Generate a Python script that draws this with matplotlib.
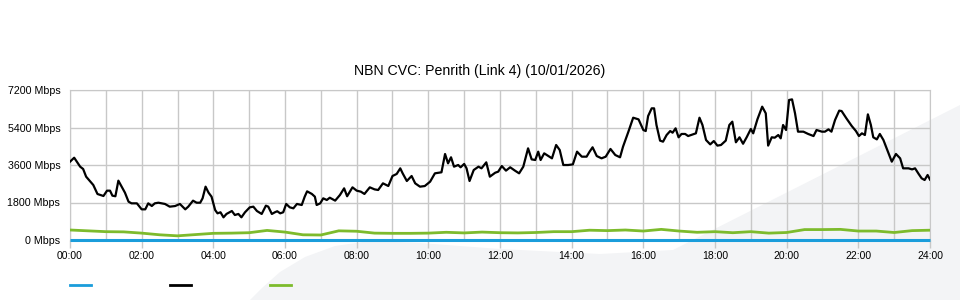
import numpy as np
import matplotlib
matplotlib.use("Agg")
import matplotlib.pyplot as plt
from matplotlib.lines import Line2D
from matplotlib.patches import Polygon

plt.rcParams['font.family'] = ['Liberation Sans', 'DejaVu Sans']

title = "NBN CVC: Penrith (Link 4) (10/01/2026)"
y_ticks = [0, 1800, 3600, 5400, 7200]
y_labels = ["0 Mbps", "1800 Mbps", "3600 Mbps", "5400 Mbps", "7200 Mbps"]
x_ticks = [0, 2, 4, 6, 8, 10, 12, 14, 16, 18, 20, 22, 24]
x_labels = ["00:00", "02:00", "04:00", "06:00", "08:00", "10:00", "12:00",
            "14:00", "16:00", "18:00", "20:00", "22:00", "24:00"]

# black series, minutes past midnight -> Mbps
black_min = [0, 7, 17, 22, 27, 39, 46, 56, 62, 67, 71, 76, 81, 87, 92, 98, 103, 112,
             120, 126, 131, 137, 142, 148, 159, 167, 176, 184, 193, 198, 206, 212, 218,
             222, 227, 232, 237, 243, 247, 252, 257, 262, 271, 276, 282, 287, 293, 301,
             307, 313, 321, 328, 332, 338, 343, 347, 352, 357, 362, 368, 374, 380, 388,
             393, 397, 405, 410, 413, 419, 424, 430, 435, 444, 452, 459, 464, 473, 480,
             487, 493, 502, 510, 516, 524, 533, 540, 547, 553, 557, 564, 572, 578, 586,
             594, 603, 611, 622, 628, 633, 638, 643, 650, 654, 660, 664, 669, 676, 684,
             689, 697, 703, 712, 717, 723, 730, 737, 745, 752, 759, 767, 773, 779, 784,
             788, 794, 801, 807, 814, 820, 826, 834, 842, 849, 857, 865, 870, 875, 882,
             890, 897, 905, 913, 921, 926, 935, 943, 952, 960, 964, 968, 974, 978, 982,
             988, 993, 999, 1005, 1009, 1014, 1019, 1024, 1030, 1035, 1043, 1048, 1054,
             1059, 1065, 1072, 1078, 1084, 1090, 1098, 1104, 1109, 1115, 1121, 1127,
             1133, 1140, 1144, 1151, 1159, 1165, 1169, 1175, 1180, 1186, 1190, 1194,
             1199, 1204, 1209, 1214, 1219, 1228, 1236, 1245, 1250, 1259, 1264, 1270,
             1275, 1281, 1288, 1292, 1300, 1309, 1316, 1321, 1326, 1331, 1336, 1341,
             1345, 1351, 1356, 1362, 1368, 1376, 1383, 1390, 1395, 1404, 1410, 1415,
             1421, 1426, 1431, 1436, 1440]
black_mbps = [3758, 3950, 3520, 3408, 3040, 2640, 2208, 2112, 2368, 2368, 2128, 2100, 2848,
              2528, 2272, 1840, 1760, 1760, 1472, 1472, 1760, 1632, 1760, 1790, 1730, 1600,
              1630, 1730, 1472, 1600, 1888, 1790, 1790, 2000, 2560, 2272, 2080, 1440, 1280,
              1330, 1088, 1250, 1392, 1200, 1250, 1088, 1330, 1568, 1600, 1392, 1250, 1648,
              1600, 1250, 1330, 1380, 1280, 1330, 1730, 1568, 1520, 1730, 1680, 2080, 2336,
              2210, 2080, 1680, 1760, 2000, 1920, 2030, 1890, 2160, 2480, 2100, 2528, 2370,
              2320, 2210, 2528, 2430, 2400, 2720, 2592, 3072, 3170, 3440, 3200, 2832, 3072,
              2720, 2560, 2590, 2800, 3200, 3250, 4128, 3680, 3970, 3520, 3600, 3490, 3650,
              3440, 2832, 3360, 3520, 3440, 3728, 3040, 3230, 3280, 3550, 3330, 3490, 3330,
              3200, 3520, 4400, 3870, 3840, 4240, 3840, 4160, 4030, 3920, 4560, 4320, 3600,
              3600, 3630, 4240, 4000, 4000, 4240, 4450, 4030, 3920, 4000, 4370, 4080, 3970,
              4480, 5200, 5870, 5790, 5280, 5230, 5950, 6320, 6320, 5520, 4770, 4720, 5040,
              5230, 5150, 5360, 4930, 5090, 5090, 4990, 5070, 5120, 5870, 5520, 4800, 4590,
              4750, 4530, 4560, 4770, 5520, 5680, 4690, 4930, 4620, 4930, 5330, 5120, 5790,
              6400, 6080, 4530, 4930, 4910, 5040, 4880, 5520, 5280, 6720, 6750, 6080, 5200,
              5200, 5090, 4990, 5280, 5200, 5200, 5310, 5200, 5760, 6210, 6190, 5840, 5470,
              5230, 4990, 5120, 5040, 6030, 5520, 4930, 4830, 5090, 4800, 4350, 3760, 4130,
              3920, 3440, 3440, 3390, 3440, 3170, 2960, 2880, 3120, 2900]

# green series, every 30 minutes
green_min = np.arange(0, 1441, 30)
green_mbps = [480, 440, 400, 390, 330, 250, 200, 260, 320, 330, 350, 460, 380, 250, 240,
              440, 420, 330, 320, 320, 330, 370, 340, 380, 350, 340, 360, 400, 400, 470,
              450, 480, 430, 510, 430, 370, 400, 350, 400, 330, 360, 500, 500, 510, 430,
              430, 360, 450, 470]

# blue series sits on zero all day
blue_min = [0, 1440]
blue_mbps = [0, 0]

fig = plt.figure(figsize=(9.6, 3.0), dpi=100)

# faint watermark swoosh in the background (figure pixels, top-left origin)
bg = fig.add_axes([0, 0, 1, 1], zorder=-5)
bg.set_xlim(0, 960)
bg.set_ylim(300, 0)
bg.axis('off')
swoosh_px = [(250, 300), (262, 288), (280, 272), (305, 257), (335, 246), (370, 241),
             (420, 243), (500, 249), (600, 254), (673, 250), (960, 105), (960, 300)]
bg.add_patch(Polygon(swoosh_px, closed=True, facecolor='#f3f4f6', edgecolor='none'))

ax = fig.add_axes([70 / 960, 60 / 300, 860 / 960, 150 / 300], zorder=1)
ax.patch.set_alpha(0)

ax.plot(np.array(blue_min) / 60, blue_mbps, color='#1a9ddb', lw=2.2, zorder=4,
        solid_capstyle='butt', clip_on=False)
ax.plot(np.array(black_min) / 60, black_mbps, color='black', lw=1.6, zorder=3)
ax.plot(green_min / 60, green_mbps, color='#7dbb2c', lw=2.0, zorder=3)

ax.set_xlim(0, 24)
ax.set_ylim(0, 7200)
ax.set_xticks(x_ticks)
ax.set_xticklabels(x_labels, fontsize=7.5)
ax.set_xticks(np.arange(1, 24, 2), minor=True)
ax.set_yticks(y_ticks)
ax.set_yticklabels(y_labels, fontsize=7.7)
ax.tick_params(axis='x', which='major', direction='out', length=6, width=1,
               color='#c8c8c8', pad=2)
ax.tick_params(axis='x', which='minor', length=0)
ax.tick_params(axis='y', length=0, pad=7)
ax.grid(True, which='both', axis='x', color='#c8c8c8', lw=1)
ax.grid(True, axis='y', color='#c8c8c8', lw=1)
ax.set_axisbelow(True)
for side in ['left', 'right', 'top']:
    ax.spines[side].set_color('#c8c8c8')
ax.spines['bottom'].set_visible(False)

fig.text(0.5, 1 - 71 / 300, title, ha='center', va='center', fontsize=10.2)

# legend swatches without labels
for x0, col in [(70, '#1a9ddb'), (170, 'black'), (270, '#7dbb2c')]:
    fig.add_artist(Line2D([x0 / 960, (x0 + 21) / 960], [1 - 285 / 300] * 2,
                          color=col, lw=2, transform=fig.transFigure))

fig.savefig("out.png", dpi=100)
